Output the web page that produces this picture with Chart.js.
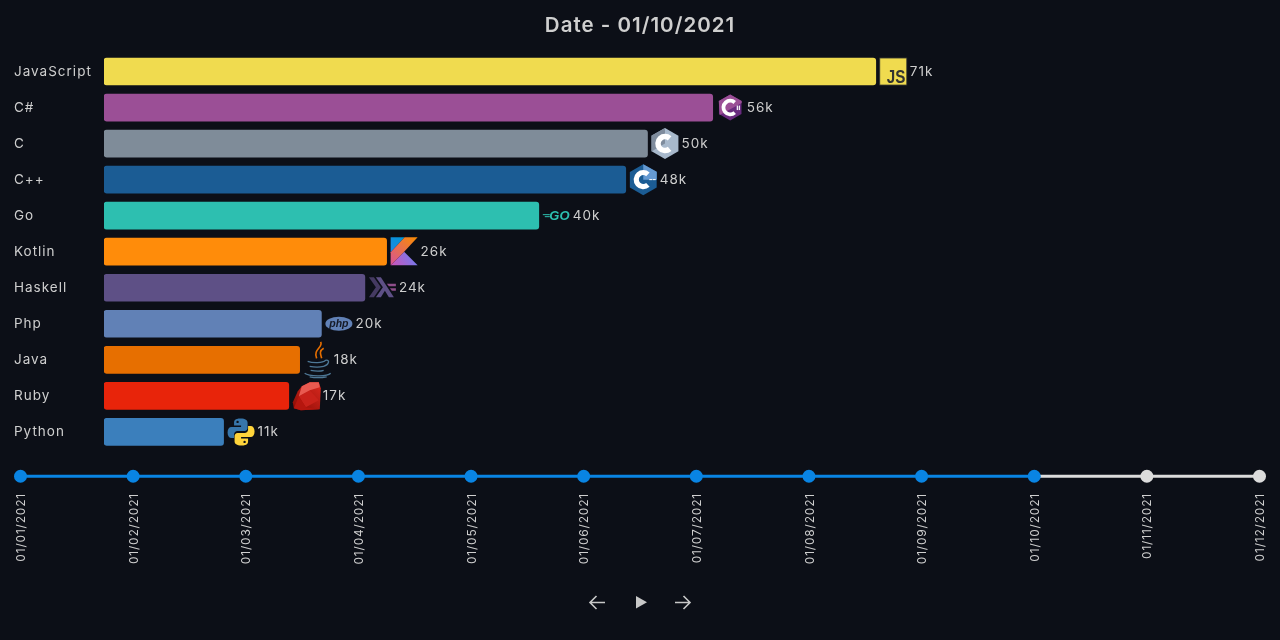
<!DOCTYPE html>
<html>

<head>
    <title>Date - 01/10/2021</title>
    <meta charset="UTF-8">
    <script src="https://cdn.jsdelivr.net/npm/chart.js"></script>
    <style>
        html, body {
            margin: 0;
            width: 1280px;
            height: 640px;
            overflow: hidden;
            background-color: #0c0f17;
        }

        canvas {
            position: absolute;
            left: 0;
        }

        #raceChart { top: 0; }
        #timelineChart { top: 457px; }

        .controls svg {
            position: absolute;
            top: 592px;
            width: 20px;
            height: 20px;
            fill: none;
            stroke: #c8c8c8;
            stroke-width: 1.6;
        }
    </style>
</head>

<body>
    <canvas id="raceChart" width="1280" height="461"></canvas>
    <canvas id="timelineChart" width="1280" height="110"></canvas>

    <div class="controls">
        <svg style="left:587px" viewBox="0 0 20 20"><path d="M18 10.5H3.5M9.5 4L3 10.5 9.5 17"/></svg>
        <svg style="left:631px" viewBox="0 0 20 20"><path d="M5 4v12.5l11-6.2z" fill="#c8c8c8" stroke="none"/></svg>
        <svg style="left:673px" viewBox="0 0 20 20"><path d="M2 10.5H16.5M10.5 4l6.5 6.5-6.5 6.5"/></svg>
    </div>

    <script>
        // Data
        var languages = ['JavaScript', 'C#', 'C', 'C++', 'Go', 'Kotlin', 'Haskell', 'Php', 'Java', 'Ruby', 'Python'];
        var developers = [71000, 56000, 50000, 48000, 40000, 26000, 24000, 20000, 18000, 17000, 11000];
        var dates = ['01/01/2021', '01/02/2021', '01/03/2021', '01/04/2021', '01/05/2021', '01/06/2021',
            '01/07/2021', '01/08/2021', '01/09/2021', '01/10/2021', '01/11/2021', '01/12/2021'];
        var timelineValues = [0, 0, 0, 0, 0, 0, 0, 0, 0, 0, 0, 0];
        var currentDate = 9;

        var barColors = ['#f0db4f', '#9b4f96', '#7f8c99', '#1b5c94', '#2dbfb0', '#ff8c0a', '#5e5086',
            '#6181b6', '#e76f00', '#e8240a', '#3b7fbc'];

        var textColor = '#cfcfcf';
        var fontFamily = 'Inter, sans-serif';
        Chart.defaults.font.family = fontFamily;
        Chart.defaults.color = textColor;

        function hexagon(ctx, r, fill) {
            ctx.beginPath();
            for (var i = 0; i < 6; i++) {
                var a = Math.PI / 3 * i - Math.PI / 2;
                ctx.lineTo(13.5 + r * Math.cos(a), 13.5 + r * Math.sin(a));
            }
            ctx.closePath();
            ctx.fillStyle = fill;
            ctx.fill();
        }

        function letterC(ctx, r, width) {
            ctx.beginPath();
            ctx.arc(13.5, 13.5, r, Math.PI * 0.27, Math.PI * 1.73);
            ctx.strokeStyle = '#fff';
            ctx.lineWidth = width;
            ctx.stroke();
        }

        function polygon(ctx, fill, pts) {
            ctx.beginPath();
            for (var i = 0; i < pts.length; i += 2) {
                ctx.lineTo(pts[i], pts[i + 1]);
            }
            ctx.closePath();
            ctx.fillStyle = fill;
            ctx.fill();
        }

        function gradient(ctx, x0, y0, x1, y1, c0, c1) {
            var g = ctx.createLinearGradient(x0, y0, x1, y1);
            g.addColorStop(0, c0);
            g.addColorStop(1, c1);
            return g;
        }

        // Logos, drawn in a local 27x27 box
        var logos = {
            'JavaScript': function (ctx) {
                ctx.fillStyle = '#f0db4f';
                ctx.fillRect(0, 0, 27, 27);
                ctx.strokeStyle = '#3a3a32';
                ctx.lineWidth = 0.8;
                ctx.strokeRect(0, 0, 27, 27);
                ctx.translate(25.5, 25);
                ctx.scale(0.8, 1);
                ctx.fillStyle = '#323330';
                ctx.font = 'bold 19px "Liberation Sans"';
                ctx.textAlign = 'right';
                ctx.textBaseline = 'alphabetic';
                ctx.fillText('JS', 0, 0);
            },
            'C#': function (ctx) {
                hexagon(ctx, 13, '#682a7e');
                polygon(ctx, '#9b4f96', [2, 7, 13.5, 0.5, 25, 7, 25, 9, 3, 21]);
                letterC(ctx, 6.8, 3.8);
                ctx.fillStyle = '#fff';
                ctx.fillRect(20, 11.5, 1.2, 4.5);
                ctx.fillRect(22, 11.5, 1.2, 4.5);
            },
            'C': function (ctx) {
                hexagon(ctx, 15.5, '#a8b9cc');
                polygon(ctx, '#7f8c9d', [0, 5.5, 13.5, -2, 13.5, 13.5, 0, 21.5]);
                letterC(ctx, 7, 5.5);
            },
            'C++': function (ctx) {
                hexagon(ctx, 15.5, '#1b5c94');
                polygon(ctx, '#659ad2', [13.5, -2, 27, 5.5, 27, 13.5, 13.5, 13.5]);
                letterC(ctx, 7, 5.2);
                ctx.fillStyle = '#fff';
                ctx.fillRect(19.5, 13, 3, 1);
                ctx.fillRect(23, 13, 3, 1);
            },
            'Go': function (ctx) {
                ctx.fillStyle = '#2dbfb0';
                ctx.fillRect(0, 12, 7, 1);
                ctx.fillRect(2, 14, 5, 1);
                ctx.font = 'italic bold 13px "Liberation Sans"';
                ctx.textAlign = 'left';
                ctx.textBaseline = 'alphabetic';
                ctx.fillText('GO', 6.5, 18);
            },
            'Kotlin': function (ctx) {
                polygon(ctx, gradient(ctx, 3, 27, 24, 15, '#c757bc', '#6d7df2'), [0, 27, 13.5, 13.5, 27, 27]);
                polygon(ctx, gradient(ctx, 0, 14, 14, 0, '#1e88e5', '#0095d5'), [0, -1, 14, -1, 0, 14]);
                polygon(ctx, gradient(ctx, 1, 25, 24, 0, '#d9568f', '#f88909'), [14, -1, 0, 14, 0, 27, 13.5, 13.5, 27, -1]);
            },
            'Haskell': function (ctx) {
                polygon(ctx, '#453a62', [0, 23, 7, 13, 0, 3, 5, 3, 12, 13, 5, 23]);
                polygon(ctx, '#5e5086', [7, 23, 14, 13, 7, 3, 12, 3, 25, 23, 20, 23, 16, 16.5, 12, 23]);
                polygon(ctx, '#8f4e8b', [18, 9.5, 27, 9.5, 27, 12, 20, 12]);
                polygon(ctx, '#8f4e8b', [21, 14, 27, 14, 27, 16.5, 23, 16.5]);
            },
            'Php': function (ctx) {
                ctx.beginPath();
                ctx.ellipse(13.5, 13.5, 13.5, 7, 0, 0, Math.PI * 2);
                ctx.fillStyle = '#6181b6';
                ctx.fill();
                ctx.fillStyle = '#151a26';
                ctx.font = 'italic bold 10.5px "Liberation Sans"';
                ctx.textAlign = 'center';
                ctx.textBaseline = 'middle';
                ctx.fillText('php', 13.5, 13.5);
            },
            'Java': function (ctx) {
                ctx.strokeStyle = '#e76f00';
                ctx.lineWidth = 1.6;
                ctx.beginPath();
                ctx.moveTo(17, -4.5);
                ctx.bezierCurveTo(20, 1, 9, 3, 13, 12);
                ctx.moveTo(20, 2);
                ctx.bezierCurveTo(15, 5, 17, 8, 18, 12);
                ctx.stroke();
                ctx.strokeStyle = '#4e7896';
                ctx.lineWidth = 1.3;
                ctx.beginPath();
                ctx.moveTo(4, 15);
                ctx.bezierCurveTo(9, 17, 19, 17, 22, 14);
                ctx.bezierCurveTo(27, 13, 25, 19, 20, 20);
                ctx.moveTo(6, 20);
                ctx.bezierCurveTo(11, 21, 16, 21, 20, 20);
                ctx.moveTo(7, 24);
                ctx.bezierCurveTo(12, 25, 17, 25, 20, 24);
                ctx.moveTo(1, 27);
                ctx.bezierCurveTo(5, 30, 23, 31, 27, 27);
                ctx.moveTo(6, 30.5);
                ctx.bezierCurveTo(11, 31.5, 18, 31.5, 23, 30.5);
                ctx.stroke();
            },
            'Ruby': function (ctx) {
                polygon(ctx, gradient(ctx, 26, 0, 2, 27, '#d8281f', '#8e0d05'),
                    [0, 20, 5, 9, 9, 4, 17, 0, 26, 0, 28, 6, 27, 27, 8, 28, 1, 26]);
                polygon(ctx, '#c9221a', [6, 14, 17, 8, 26, 18, 13, 25]);
                polygon(ctx, '#e85a50', [17, 0, 26, 0, 27, 5, 17, 8, 6, 14, 9, 4]);
                polygon(ctx, '#b5160e', [1, 26, 6, 14, 13, 25, 27, 27, 8, 28]);
            },
            'Python': function (ctx) {
                var snake = new Path2D('M13 0C7 0 6.5 2.5 6.5 4V7H13.5V8.5H4C1.5 8.5 0 10.5 0 14C0 17.5 1.5 19.5 4 19.5H6.5V16C6.5 14 8 12.5 10 12.5H17C18.8 12.5 20 11 20 9.5V4C20 2 18 0 13 0Z');
                ctx.fillStyle = '#3776ab';
                ctx.fill(snake);
                ctx.fillStyle = '#0c0f17';
                ctx.beginPath();
                ctx.arc(10, 3.5, 1.2, 0, Math.PI * 2);
                ctx.fill();
                ctx.translate(27, 27);
                ctx.rotate(Math.PI);
                ctx.fillStyle = '#ffd43b';
                ctx.fill(snake);
                ctx.fillStyle = '#0c0f17';
                ctx.beginPath();
                ctx.arc(10, 3.5, 1.2, 0, Math.PI * 2);
                ctx.fill();
            }
        };

        // Canvas text spacing, the picture uses a wide font
        var wideText = {
            id: 'wideText',
            beforeDraw: function (chart) {
                chart.ctx.letterSpacing = chart.options.textSpacing || '0px';
                chart.ctx.fontKerning = 'normal';
            }
        };

        // Logo and value label at the end of each bar
        var barEnds = {
            id: 'barEnds',
            afterDatasetsDraw: function (chart) {
                var ctx = chart.ctx;
                var xScale = chart.scales.x;
                var yScale = chart.scales.y;
                developers.forEach(function (value, i) {
                    var x = xScale.getPixelForValue(value);
                    var y = yScale.getPixelForValue(i);

                    ctx.save();
                    ctx.translate(x + 4, y - 13.5);
                    ctx.letterSpacing = '0px';
                    logos[languages[i]](ctx);
                    ctx.restore();

                    ctx.save();
                    ctx.font = '13.5px ' + fontFamily;
                    ctx.fillStyle = textColor;
                    ctx.textAlign = 'left';
                    ctx.textBaseline = 'middle';
                    ctx.fillText(Math.round(value / 1000) + 'k', x + 34, y + 0.5);
                    ctx.restore();
                });
            }
        };

        // Bars
        var raceChart = new Chart(document.getElementById('raceChart').getContext('2d'), {
            type: 'bar',
            data: {
                labels: languages,
                datasets: [{
                    data: developers,
                    backgroundColor: barColors,
                    borderRadius: 3,
                    borderSkipped: false,
                    barThickness: 27
                }]
            },
            options: {
                indexAxis: 'y',
                responsive: false,
                animation: false,
                textSpacing: '1px',
                layout: { padding: { left: 14, right: 14, top: 0, bottom: 0.5 } },
                plugins: {
                    legend: { display: false },
                    tooltip: { enabled: false },
                    title: {
                        display: true,
                        text: 'Date - ' + dates[currentDate],
                        color: textColor,
                        font: { size: 20.5, weight: '600', lineHeight: 1.2 },
                        padding: { top: 14, bottom: 14.9 }
                    }
                },
                scales: {
                    x: { display: false, min: 0, max: 106900 },
                    y: {
                        afterFit: function (scale) { scale.width = 90; },
                        grid: { display: false },
                        border: { display: false },
                        ticks: { crossAlign: 'far', color: textColor, font: { size: 13.5 }, autoSkip: false }
                    }
                }
            },
            plugins: [wideText, barEnds]
        });

        // Timeline
        var timelineChart = new Chart(document.getElementById('timelineChart').getContext('2d'), {
            type: 'line',
            data: {
                labels: dates,
                datasets: [{
                    data: timelineValues,
                    clip: false,
                    borderWidth: 3,
                    pointRadius: 6.5,
                    pointHoverRadius: 6.5,
                    pointBorderWidth: 0,
                    borderColor: '#0984e3',
                    pointBackgroundColor: function (c) {
                        return c.dataIndex <= currentDate ? '#0984e3' : '#dcdcdc';
                    },
                    segment: {
                        borderColor: function (c) {
                            return c.p1DataIndex <= currentDate ? '#0984e3' : '#dcdcdc';
                        }
                    }
                }]
            },
            options: {
                responsive: false,
                animation: false,
                textSpacing: '0.8px',
                layout: { padding: { left: 20.5, right: 20.5, top: 0, bottom: 0 } },
                plugins: {
                    legend: { display: false },
                    tooltip: { enabled: false }
                },
                scales: {
                    y: { display: false, min: -1, max: 1 },
                    x: {
                        afterFit: function (scale) { scale.height = 78; },
                        grid: { display: false, drawTicks: false },
                        border: { display: false },
                        ticks: {
                            minRotation: 90,
                            maxRotation: 90,
                            autoSkip: false,
                            padding: 4,
                            labelOffset: 1,
                            color: textColor,
                            font: { size: 12 }
                        }
                    }
                }
            },
            plugins: [wideText]
        });
    </script>
</body>

</html>
